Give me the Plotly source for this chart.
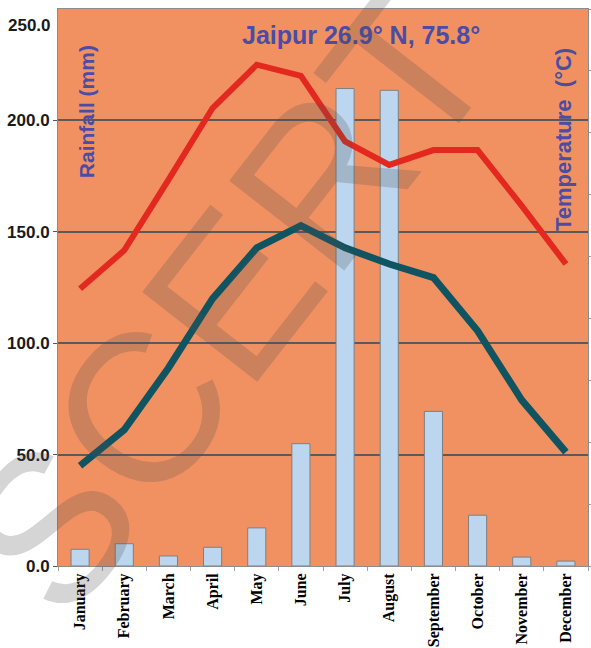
import plotly.graph_objects as go

months = ["January", "February", "March", "April", "May", "June", "July",
          "August", "September", "October", "November", "December"]
rainfall_mm = [7.5, 10.0, 4.5, 8.4, 17.1, 54.9, 214.3, 213.5, 69.4, 22.8, 4.0, 2.2]
temp_max_c = [22.4, 25.5, 31.2, 37.0, 40.5, 39.6, 34.3, 32.4, 33.6, 33.6, 29.1, 24.4]
temp_min_c = [8.1, 11.0, 16.0, 21.6, 25.7, 27.5, 25.7, 24.4, 23.3, 19.0, 13.4, 9.2]
rain_ticks = [0, 50, 100, 150, 200]
rain_tick_text = ["0.0", "50.0", "100.0", "150.0", "200.0"]
rain_top = 250
rain_top_text = "250.0"

title_color = "#4a4ca6"
tick_font = dict(family="Liberation Sans", size=17, color="#1a1a1a", weight="bold")

fig = go.Figure()
fig.add_trace(go.Bar(
    x=months, y=rainfall_mm, width=0.41,
    marker=dict(color="#bcd6ef", line=dict(color="#7f7f7f", width=1)),
    yaxis="y", showlegend=False,
))
fig.add_trace(go.Scatter(
    x=months, y=temp_max_c, mode="lines", yaxis="y2",
    line=dict(color="#e3291f", width=6), showlegend=False,
))
fig.add_trace(go.Scatter(
    x=months, y=temp_min_c, mode="lines", yaxis="y2",
    line=dict(color="#0f5460", width=7), showlegend=False,
))

fig.update_layout(
    width=591, height=648,
    margin=dict(l=58, r=3, t=9, b=82, autoexpand=False),
    paper_bgcolor="white",
    plot_bgcolor="#f19161",
    xaxis=dict(
        type="category", tickangle=-90, tickson="boundaries", automargin=False,
        ticks="outside", ticklen=4, tickcolor="#a0a0a0",
        showline=True, linecolor="#8c8c8c", linewidth=1, mirror=True,
        showgrid=False,
        tickfont=dict(family="Liberation Serif", size=16, color="black", weight="bold"),
    ),
    yaxis=dict(
        range=[0, rain_top], tickvals=rain_ticks, ticktext=rain_tick_text,
        automargin=False, ticklabeloverflow="allow",
        ticks="outside", ticklen=4, tickcolor="#555555",
        showline=True, linecolor="#8c8c8c", linewidth=1,
        showgrid=True, gridcolor="#5a5a5a", gridwidth=1.5,
        zeroline=False,
        tickfont=tick_font,
    ),
    yaxis2=dict(
        range=[0, 45], dtick=5, overlaying="y", side="right", automargin=False,
        ticks="outside", ticklen=3, tickcolor="#9a9a9a",
        showticklabels=False, showgrid=False, zeroline=False,
        showline=True, linecolor="#8c8c8c", linewidth=1,
    ),
    bargap=0.59,
    annotations=[
        dict(text=rain_top_text, x=0, y=rain_top, xref="paper", yref="y",
             xanchor="right", yanchor="middle", xshift=-5, yshift=-16,
             showarrow=False, font=tick_font),
        dict(text="<b>Jaipur 26.9° N, 75.8°</b>", x=0.572, y=0.953,
             xref="paper", yref="paper", xanchor="center", yanchor="middle",
             showarrow=False,
             font=dict(family="Liberation Sans", size=25, color=title_color)),
        dict(text="<b>Rainfall (mm)</b>", x=0.053, y=0.815,
             xref="paper", yref="paper", xanchor="center", yanchor="middle",
             showarrow=False, textangle=-90,
             font=dict(family="Liberation Sans", size=21, color=title_color)),
        dict(text="<b>Temperature  (°C)</b>", x=0.955, y=0.765,
             xref="paper", yref="paper", xanchor="center", yanchor="middle",
             showarrow=False, textangle=-90,
             font=dict(family="Liberation Sans", size=22, color=title_color)),
        dict(text="SCERT", x=0.32, y=0.476, xref="paper", yref="paper",
             xanchor="center", yanchor="middle",
             showarrow=False, textangle=-52,
             font=dict(family="Liberation Sans", size=212, color="rgba(80,80,80,0.24)")),
    ],
)

fig.write_html("out.html", config={"displayModeBar": False},
               post_script="document.body.style.margin='0px';")
